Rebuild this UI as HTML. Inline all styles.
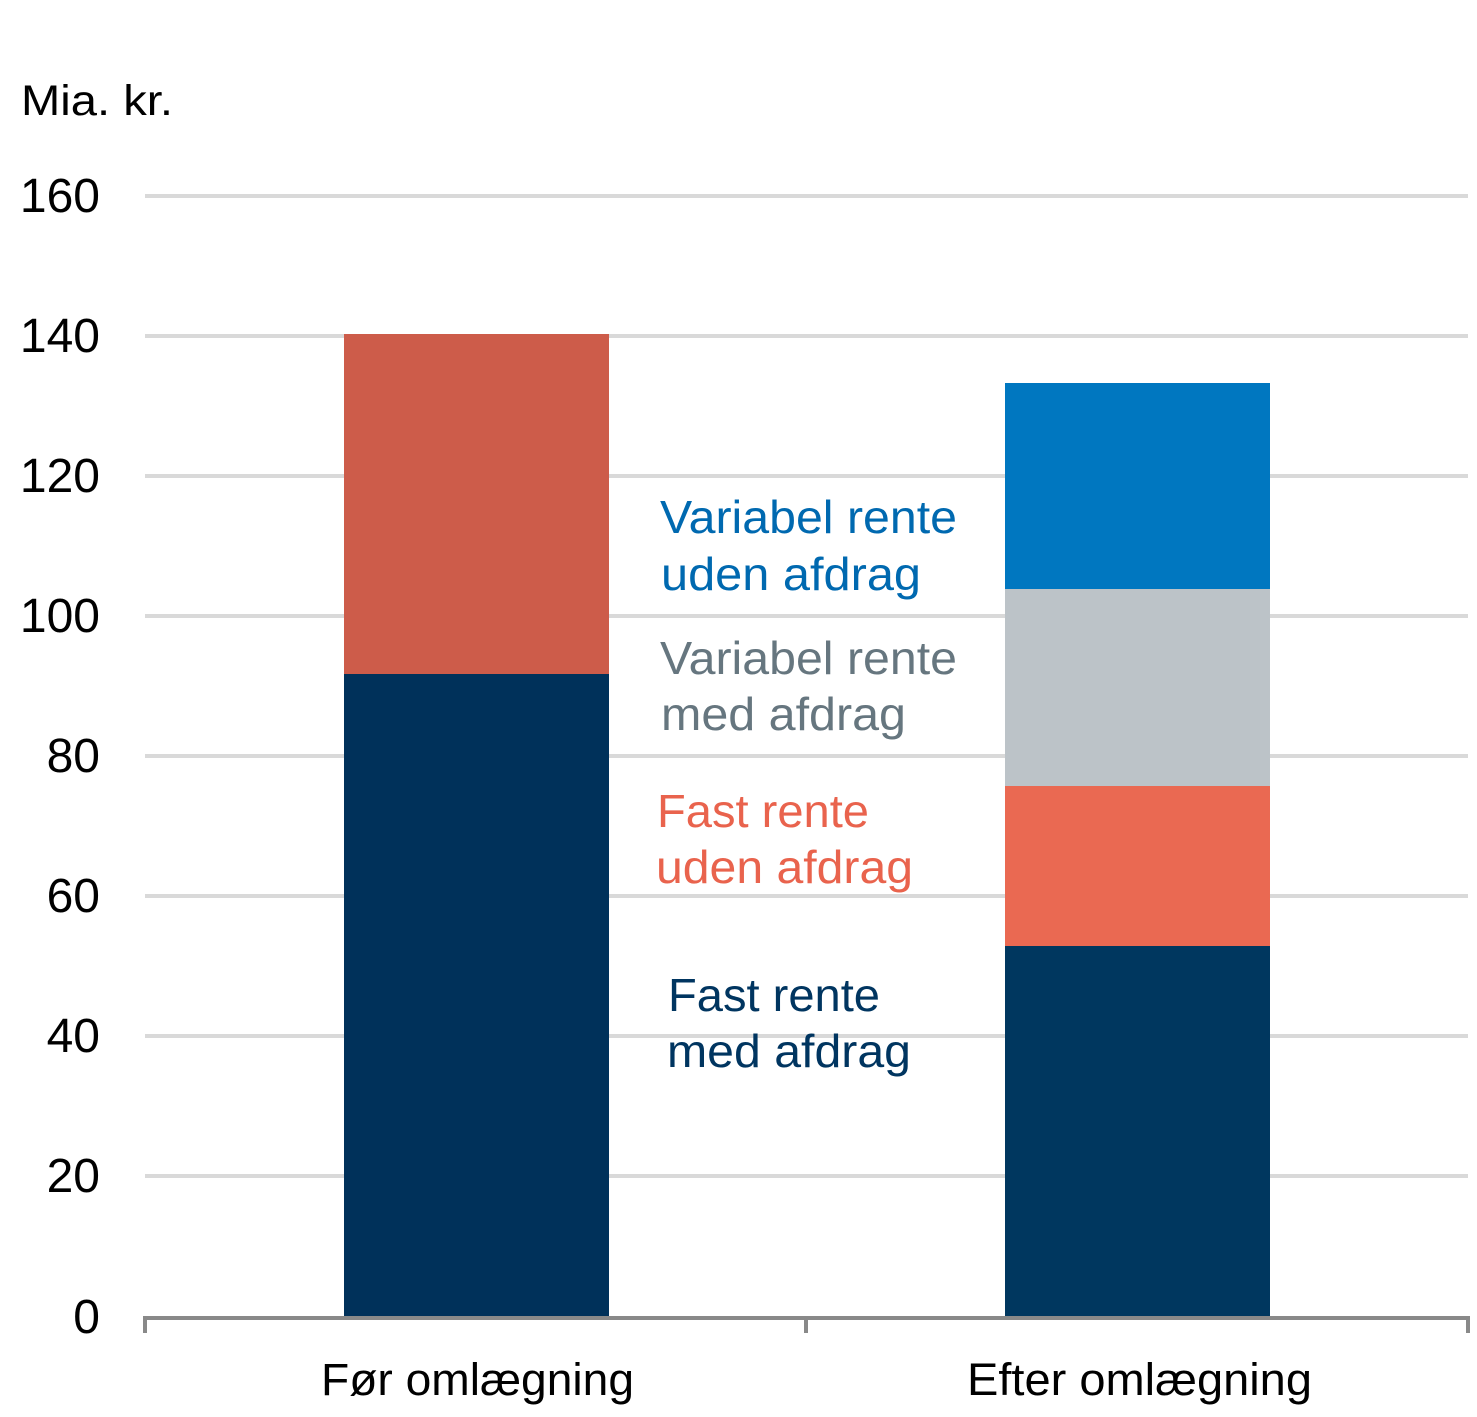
<!DOCTYPE html>
<html><head><meta charset="utf-8"><style>
html,body{margin:0;padding:0;background:#fff;}
svg{display:block;}
text{font-family:"Liberation Sans",Arial,sans-serif;}
</style></head><body>
<svg width="1477" height="1417" viewBox="0 0 1477 1417" xmlns="http://www.w3.org/2000/svg">
<rect width="1477" height="1417" fill="#fff"/>
<!-- gridlines -->
<g fill="#d9d9d9">
<rect x="145" y="194" width="1323" height="4"/>
<rect x="145" y="334" width="1323" height="4"/>
<rect x="145" y="474" width="1323" height="4"/>
<rect x="145" y="614" width="1323" height="4"/>
<rect x="145" y="754" width="1323" height="4"/>
<rect x="145" y="894" width="1323" height="4"/>
<rect x="145" y="1034" width="1323" height="4"/>
<rect x="145" y="1174" width="1323" height="4"/>
</g>
<!-- bars -->
<rect x="344" y="334" width="265" height="340" fill="#cd5c4a"/>
<rect x="344" y="674" width="265" height="643" fill="#00315a"/>
<rect x="1005" y="383" width="265" height="206" fill="#0077c0"/>
<rect x="1005" y="589" width="265" height="197" fill="#bcc3c8"/>
<rect x="1005" y="786" width="265" height="160" fill="#ea6952"/>
<rect x="1005" y="946" width="265" height="371" fill="#00375f"/>
<!-- axis -->
<rect x="143" y="1316" width="1327" height="4" fill="#898989"/>
<rect x="143" y="1316" width="4" height="17" fill="#898989"/>
<rect x="804" y="1316" width="4" height="17" fill="#898989"/>
<rect x="1466" y="1316" width="4" height="17" fill="#898989"/>
<!-- y labels -->
<g font-size="48" fill="#000" text-anchor="end">
<text x="100" y="212">160</text>
<text x="100" y="352">140</text>
<text x="100" y="492">120</text>
<text x="100" y="632">100</text>
<text x="100" y="772">80</text>
<text x="100" y="912">60</text>
<text x="100" y="1052">40</text>
<text x="100" y="1192">20</text>
<text x="100" y="1333">0</text>
</g>
<text x="21" y="115" font-size="43" fill="#000" textLength="152" lengthAdjust="spacingAndGlyphs">Mia. kr.</text>
<!-- category labels -->
<text x="321" y="1395" font-size="45" fill="#000" textLength="313" lengthAdjust="spacingAndGlyphs">Før omlægning</text>
<text x="967" y="1395" font-size="45" fill="#000" textLength="345" lengthAdjust="spacingAndGlyphs">Efter omlægning</text>
<!-- series labels -->
<g font-size="46">
<text x="660" y="533" fill="#0069b0" textLength="297" lengthAdjust="spacingAndGlyphs">Variabel rente</text>
<text x="661" y="590" fill="#0069b0" textLength="260" lengthAdjust="spacingAndGlyphs">uden afdrag</text>
<text x="660" y="674" fill="#66767f" textLength="297" lengthAdjust="spacingAndGlyphs">Variabel rente</text>
<text x="661" y="730" fill="#66767f" textLength="245" lengthAdjust="spacingAndGlyphs">med afdrag</text>
<text x="657" y="827" fill="#e9634d" textLength="212" lengthAdjust="spacingAndGlyphs">Fast rente</text>
<text x="656" y="883" fill="#e9634d" textLength="257" lengthAdjust="spacingAndGlyphs">uden afdrag</text>
<text x="668" y="1011" fill="#003560" textLength="212" lengthAdjust="spacingAndGlyphs">Fast rente</text>
<text x="667" y="1067" fill="#003560" textLength="244" lengthAdjust="spacingAndGlyphs">med afdrag</text>
</g>
</svg>
</body></html>
